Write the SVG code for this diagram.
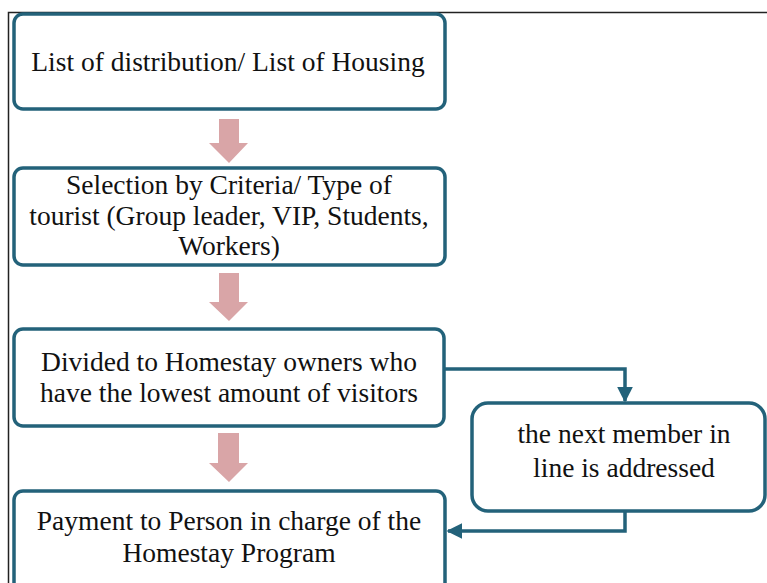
<svg xmlns="http://www.w3.org/2000/svg" width="767" height="583" viewBox="0 0 767 583">
<defs>
<style>
.box{fill:#ffffff;stroke:#23627a;stroke-width:3.5}
.t{font-family:'Liberation Serif','Times New Roman',serif;font-size:27.5px;fill:#111111;text-anchor:middle}
.blk{fill:#d9a5a7}
.con{fill:none;stroke:#23627a;stroke-width:3.5}
.frame{fill:none;stroke:#222222;stroke-width:1.5}
</style>
<marker id="ah" viewBox="0 0 10 10" refX="9" refY="5" markerWidth="4.6" markerHeight="4.6" markerUnits="strokeWidth" orient="auto">
<path d="M0,0 L10,5 L0,10 z" fill="#23627a"/>
</marker>
</defs>
<rect width="767" height="583" fill="#ffffff"/>
<path class="frame" d="M8.5,583 L8.5,12.5 L767,12.5"/>
<g id="block-arrows">
<path class="blk" d="M219,119 L239,119 L239,143 L248,143 L229,163 L209,143 L219,143 z"/>
<path class="blk" d="M219,273 L239,273 L239,302 L248,302 L229,321 L209,302 L219,302 z"/>
<path class="blk" d="M218,433 L239,433 L239,463 L248,463 L229,482 L209,463 L218,463 z"/>
</g>
<g id="n1">
<rect class="box" x="14" y="14" width="431" height="95" rx="9"/>
<text class="t" x="228" y="71">List of distribution/ List of Housing</text>
</g>
<g id="n2">
<rect class="box" x="14" y="168" width="431" height="97" rx="9"/>
<text class="t" x="229" y="194">Selection by Criteria/ Type of</text>
<text class="t" x="229" y="225">tourist (Group leader, VIP, Students,</text>
<text class="t" x="229" y="255">Workers)</text>
</g>
<g id="n3">
<rect class="box" x="14" y="329" width="430" height="97" rx="9"/>
<text class="t" x="229" y="371">Divided to Homestay owners who</text>
<text class="t" x="229" y="402">have the lowest amount of visitors</text>
</g>
<g id="n4">
<rect class="box" x="14" y="491" width="431" height="110" rx="9"/>
<text class="t" x="229" y="530">Payment to Person in charge of the</text>
<text class="t" x="229" y="562">Homestay Program</text>
</g>
<g id="n5">
<rect class="box" x="472" y="403" width="293" height="108" rx="16"/>
<text class="t" x="624" y="443">the next member in</text>
<text class="t" x="624" y="477">line is addressed</text>
</g>
<g id="connectors">
<path class="con" d="M444,369 L625,369 L625,401" marker-end="url(#ah)"/>
<path class="con" d="M625,511 L625,531 L448,531" marker-end="url(#ah)"/>
</g>
</svg>
